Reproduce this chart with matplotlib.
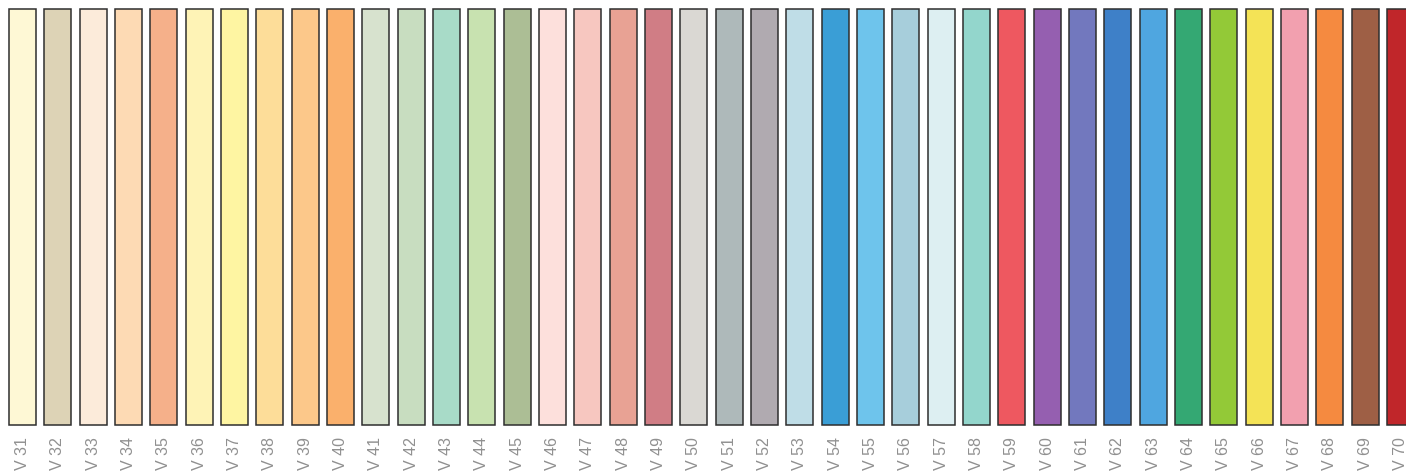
import matplotlib
matplotlib.use("Agg")
import matplotlib.pyplot as plt

codes = [f"V {n}" for n in range(31, 71)]
colors = [
    "#FEF8D5", "#DDD3B6", "#FCEBDA", "#FDDAB4", "#F5B08A",
    "#FEF3B6", "#FEF5A2", "#FDDD99", "#FCC88A", "#FAB06C",
    "#D7E2CE", "#C8DDC0", "#A8DBC8", "#C8E2B0", "#ACBE95",
    "#FDE0DC", "#F7C7C0", "#E8A294", "#D07D85", "#DAD8D3",
    "#AEB9BA", "#B0AAB0", "#BFDDE7", "#3A9ED6", "#6EC4EC",
    "#A7CEDB", "#DDEFF2", "#93D6CC", "#EE5860", "#955FB0",
    "#7278BE", "#3E80C8", "#4FA6E0", "#34A873", "#93C937",
    "#F4E356", "#F2A0AF", "#F58A40", "#9E5F45", "#C0262A",
]

def main():
    fig = plt.figure(figsize=(14.06, 4.76), dpi=100)
    ax = fig.add_axes([0, 0, 1, 1])
    step = 35.33
    left = -22.5 / step
    ax.set_xlim(left, left + 1406 / step)
    ax.set_ylim(476, 0)
    x = list(range(len(codes)))
    ax.bar(x, [416] * len(codes), bottom=9, width=27 / step,
           color=colors, edgecolor="#2e2e2e", linewidth=1.1)
    for i, c in enumerate(codes):
        ax.text(i, 437, c, rotation=90, ha="center", va="top",
                fontsize=11.5, color="#909090", family="Liberation Sans")
    ax.axis("off")
    fig.savefig("out.png", dpi=100)

if __name__ == "__main__":
    main()
